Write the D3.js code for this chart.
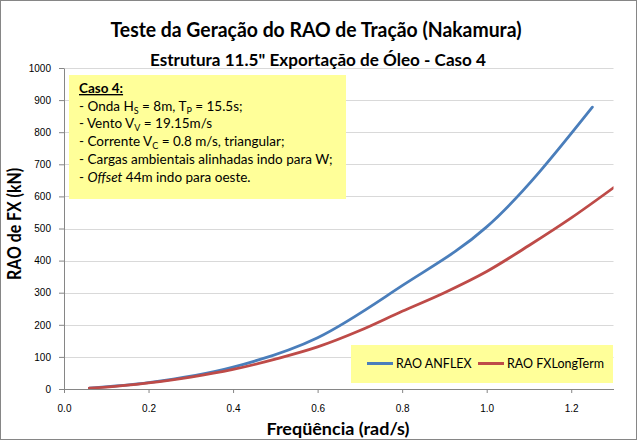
<!DOCTYPE html>
<html>
<head>
<meta charset="utf-8">
<script src="https://cdn.jsdelivr.net/npm/d3@7"></script>
<style>
  body { margin: 0; background: #fff; }
  text { font-family: Lato, "Liberation Sans", sans-serif; }
</style>
</head>
<body>
<div id="chart"></div>
<script>
// data
var freqAnflex = [0.06, 0.2, 0.4, 0.6, 0.8, 1.0, 1.25];
var raoAnflex  = [3, 20, 68, 160, 322, 505, 878];

var freqFxlt = [0.06, 0.1, 0.2, 0.3, 0.4, 0.5, 0.6, 0.7, 0.8, 0.9, 1.0, 1.1, 1.2, 1.3];
var raoFxlt  = [3, 6, 19, 37, 61, 93, 131, 182, 242, 300, 366, 447, 533, 627];

var xTicks = [0, 0.2, 0.4, 0.6, 0.8, 1.0, 1.2];
var yTicks = [0, 100, 200, 300, 400, 500, 600, 700, 800, 900, 1000];

var seriesNames = ["RAO ANFLEX", "RAO FXLongTerm"];
var seriesColors = ["#4A7EBB", "#BE4B48"];

var svgWidth = 638;
var svgHeight = 441;

// plot area
var margin = { top: 68, right: 24.5, bottom: 52, left: 64 };
var plotW = svgWidth - margin.left - margin.right;
var plotH = svgHeight - margin.top - margin.bottom;

var svg = d3.select("#chart")
  .append("svg")
  .attr("width", svgWidth)
  .attr("height", svgHeight);

// outer border
svg.append("rect")
  .attr("x", 0.5).attr("y", 0.5)
  .attr("width", svgWidth - 2).attr("height", svgHeight - 2)
  .attr("fill", "#fff")
  .attr("stroke", "#868686");

var g = svg.append("g")
  .attr("transform", `translate(${margin.left}, ${margin.top})`);

var x = d3.scaleLinear().domain([0, 1.3]).range([0, plotW]);
var y = d3.scaleLinear().domain([0, 1000]).range([plotH, 0]);

// gridlines
g.append("g")
  .selectAll("line")
  .data(yTicks.slice(1))
  .enter()
  .append("line")
  .attr("x1", 0).attr("x2", plotW)
  .attr("y1", d => Math.round(y(d)) + 0.5)
  .attr("y2", d => Math.round(y(d)) + 0.5)
  .attr("stroke", "#d9d9d9");

// axes
var xAxis = d3.axisBottom(x).tickValues(xTicks).tickFormat(d3.format(".1f")).tickSizeInner(4).tickSizeOuter(0).tickPadding(12);
var yAxis = d3.axisLeft(y).tickValues(yTicks).tickFormat(d3.format("d")).tickSizeInner(5).tickSizeOuter(0).tickPadding(8);

var gx = g.append("g")
  .attr("transform", `translate(0, ${plotH})`)
  .call(xAxis);
var gy = g.append("g")
  .call(yAxis);

[gx, gy].forEach(function(a) {
  a.selectAll("path, line").attr("stroke", "#868686");
  a.selectAll("text")
    .attr("fill", "#000")
    .style("font-family", "'Liberation Sans', sans-serif")
    .style("font-size", "10px");
});

// series
g.append("clipPath").attr("id", "plotclip")
  .append("rect").attr("width", plotW).attr("height", plotH);

var line = d3.line()
  .x(d => x(d[0]))
  .y(d => y(d[1]))
  .curve(d3.curveMonotoneX);

var series = [
  d3.zip(freqAnflex, raoAnflex),
  d3.zip(freqFxlt, raoFxlt)
];

g.append("g")
  .attr("clip-path", "url(#plotclip)")
  .selectAll("path")
  .data(series)
  .enter()
  .append("path")
  .attr("d", line)
  .attr("fill", "none")
  .attr("stroke", (d, i) => seriesColors[i])
  .attr("stroke-width", 2.8)
  .attr("stroke-linecap", "round");

// titles
svg.append("text")
  .attr("x", 316).attr("y", 37)
  .attr("text-anchor", "middle")
  .attr("font-weight", "bold")
  .attr("font-size", 21)
  .attr("textLength", 411)
  .attr("lengthAdjust", "spacingAndGlyphs")
  .text("Teste da Geração do RAO de Tração (Nakamura)");

svg.append("text")
  .attr("x", 318).attr("y", 66)
  .attr("text-anchor", "middle")
  .attr("font-weight", "bold")
  .attr("font-size", 17)
  .attr("textLength", 336)
  .attr("lengthAdjust", "spacingAndGlyphs")
  .text("Estrutura 11.5\" Exportação de Óleo - Caso 4");

svg.append("text")
  .attr("x", 338).attr("y", 435)
  .attr("text-anchor", "middle")
  .attr("font-weight", "bold")
  .attr("font-size", 17)
  .attr("textLength", 143)
  .attr("lengthAdjust", "spacingAndGlyphs")
  .text("Freqüência (rad/s)");

svg.append("text")
  .attr("transform", "translate(21, 224) rotate(-90)")
  .attr("text-anchor", "middle")
  .attr("font-weight", "bold")
  .attr("font-size", 18)
  .attr("textLength", 112)
  .attr("lengthAdjust", "spacingAndGlyphs")
  .text("RAO de FX (kN)");

// annotation box
var note = svg.append("g");
note.append("rect")
  .attr("x", 69).attr("y", 75)
  .attr("width", 277).attr("height", 124)
  .attr("fill", "#FFFF99");

var noteLines = [
  [{ t: "Caso 4:", b: true, u: true }],
  [{ t: "- Onda H" }, { t: "S", s: true }, { t: " = 8m, T" }, { t: "P", s: true }, { t: " = 15.5s;" }],
  [{ t: "- Vento V" }, { t: "V", s: true }, { t: " = 19.15m/s" }],
  [{ t: "- Corrente V" }, { t: "C", s: true }, { t: " = 0.8 m/s, triangular;" }],
  [{ t: "- Cargas ambientais alinhadas indo para W;" }],
  [{ t: "- " }, { t: "Offset", i: true }, { t: " 44m indo para oeste." }]
];

noteLines.forEach(function(parts, li) {
  var txt = note.append("text")
    .attr("x", 79)
    .attr("y", 93 + li * 17.7)
    .attr("font-size", 13.5)
    .attr("fill", "#000");
  parts.forEach(function(p, k) {
    var ts = txt.append("tspan").text(p.t);
    if (p.b) ts.attr("font-weight", "bold");
    if (p.u) ts.attr("text-decoration", "underline");
    if (p.i) ts.attr("font-style", "italic");
    if (p.s) ts.attr("font-size", 9).attr("dy", 3);
    else if (k > 0 && parts[k - 1].s) ts.attr("dy", -3);
  });
});

// legend
var leg = svg.append("g");
leg.append("rect")
  .attr("x", 351).attr("y", 345)
  .attr("width", 262).attr("height", 38)
  .attr("fill", "#FFFF99");

var legX = [367, 478];
seriesNames.forEach(function(name, i) {
  leg.append("line")
    .attr("x1", legX[i]).attr("x2", legX[i] + 26)
    .attr("y1", 363.5).attr("y2", 363.5)
    .attr("stroke", seriesColors[i])
    .attr("stroke-width", 3);
  leg.append("text")
    .attr("x", legX[i] + 29).attr("y", 368)
    .attr("font-size", 12.5)
    .attr("fill", "#000")
    .text(name);
});
</script>
</body>
</html>
